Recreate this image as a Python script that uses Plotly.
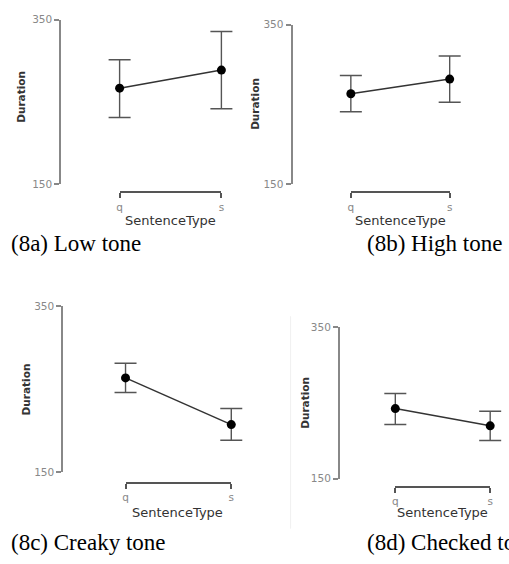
import plotly.graph_objects as go

W, H = 509, 564

categories = ["q", "s"]
captions = ["(8a) Low tone", "(8b) High tone", "(8c) Creaky tone", "(8d) Checked tone"]

mean_a = [266.7, 288.7]
low_a = [231.0, 241.7]
high_a = [301.2, 335.7]

mean_b = [263.3, 281.7]
low_b = [240.8, 252.7]
high_b = [286.2, 310.7]

mean_c = [263.6, 207.2]
low_c = [245.9, 188.2]
high_c = [281.4, 226.6]

mean_d = [242.5, 219.7]
low_d = [221.4, 200.3]
high_d = [262.3, 239.0]

y_ticks = [150, 350]
y_title = "Duration"
x_title = "SentenceType"

means = [mean_a, mean_b, mean_c, mean_d]
lows = [low_a, low_b, low_c, low_d]
highs = [high_a, high_b, high_c, high_d]

# pixel layout per panel
geom = [
    dict(yx=58, ytop=14, ybot=182, xq=118, xs=221, xy=190,
         ytl=(18, 93), xtl=(170, 219), cap=(6, 243)),
    dict(yx=292, ytop=19, ybot=182, xq=352, xs=452, xy=190,
         ytl=(255, 100), xtl=(402, 219), cap=(366, 243)),
    dict(yx=60, ytop=307, ybot=476, xq=124, xs=231, xy=487,
         ytl=(23, 392), xtl=(177, 517), cap=(6, 548)),
    dict(yx=340, ytop=328, ybot=483, xq=397, xs=493, xy=491,
         ytl=(306, 405), xtl=(445, 518), cap=(366, 548)),
]

fx = lambda px: px / W
fy = lambda py: 1 - py / H

fig = go.Figure()
layout = dict(
    width=W, height=H, margin=dict(l=0, r=0, t=0, b=0),
    paper_bgcolor="white", plot_bgcolor="rgba(0,0,0,0)", showlegend=False,
    annotations=[], shapes=[],
)

AX_FONT = "DejaVu Sans"
PAD = 14
for i, g in enumerate(geom):
    n = "" if i == 0 else str(i + 1)
    nf = str(i + 5)
    m, lo, hi = means[i], lows[i], highs[i]
    span = g["xs"] - g["xq"]
    fig.add_trace(go.Scatter(
        x=[0, 1], y=m, mode="lines+markers",
        xaxis="x" + n, yaxis="y" + n,
        line=dict(color="#333333", width=1.5),
        marker=dict(color="black", size=9),
        error_y=dict(type="data", symmetric=False,
                     array=[h - v for h, v in zip(hi, m)],
                     arrayminus=[v - l for v, l in zip(m, lo)],
                     color="#555555", thickness=1.4, width=11),
        cliponaxis=False, hoverinfo="skip",
    ))
    # invisible trace to carry the range-frame category axis
    fig.add_trace(go.Scatter(
        x=[0, 1], y=m, mode="markers", marker=dict(opacity=0),
        xaxis="x" + nf, yaxis="y" + n, hoverinfo="skip",
    ))
    layout["xaxis" + n] = dict(
        domain=[fx(g["xq"] - PAD), fx(g["xs"] + PAD)], anchor="y" + n,
        range=[-PAD / span, 1 + PAD / span], visible=False, fixedrange=True,
    )
    layout["xaxis" + nf] = dict(
        domain=[fx(g["xq"]), fx(g["xs"])], anchor="free", position=fy(g["xy"]),
        range=[0, 1], tickmode="array", tickvals=[0, 1], ticktext=categories,
        showline=True, linecolor="#555555", linewidth=2,
        ticks="outside", ticklen=5, tickwidth=2, tickcolor="#555555",
        tickfont=dict(family=AX_FONT, size=10.5, color="#888888"),
        showgrid=False, zeroline=False, fixedrange=True,
    )
    layout["yaxis" + n] = dict(
        domain=[fy(g["ybot"]), fy(g["ytop"])], anchor="free", position=fx(g["yx"]),
        range=[150, 350], tickmode="array", tickvals=y_ticks,
        showline=True, linecolor="#888888", linewidth=2,
        ticks="outside", ticklen=5, tickwidth=1.5, tickcolor="#888888",
        tickfont=dict(family=AX_FONT, size=10.5, color="#888888"),
        showgrid=False, zeroline=False, fixedrange=True,
    )
    layout["annotations"].append(dict(
        text=y_title, textangle=-90, x=fx(g["ytl"][0]), y=fy(g["ytl"][1]),
        xref="paper", yref="paper", xanchor="center", yanchor="middle",
        showarrow=False, font=dict(family=AX_FONT, size=10.5, color="#333333", weight="bold"),
    ))
    layout["annotations"].append(dict(
        text=x_title, x=fx(g["xtl"][0]), y=fy(g["xtl"][1]),
        xref="paper", yref="paper", xanchor="center", yanchor="middle",
        showarrow=False, font=dict(family=AX_FONT, size=13, color="#333333"),
    ))
    layout["annotations"].append(dict(
        text=captions[i], x=fx(g["cap"][0]), y=fy(g["cap"][1]),
        xref="paper", yref="paper", xanchor="left", yanchor="middle",
        showarrow=False, font=dict(family="Liberation Serif", size=23, color="black"),
    ))

layout["shapes"].append(dict(
    type="line", xref="paper", yref="paper",
    x0=fx(291), x1=fx(291), y0=fy(317), y1=fy(534),
    line=dict(color="#f0f0f0", width=1),
))

fig.update_layout(**layout)
fig.write_html(
    "out.html",
    config={"displayModeBar": False},
    post_script="document.body.style.margin='0';document.body.style.overflow='hidden';",
)
